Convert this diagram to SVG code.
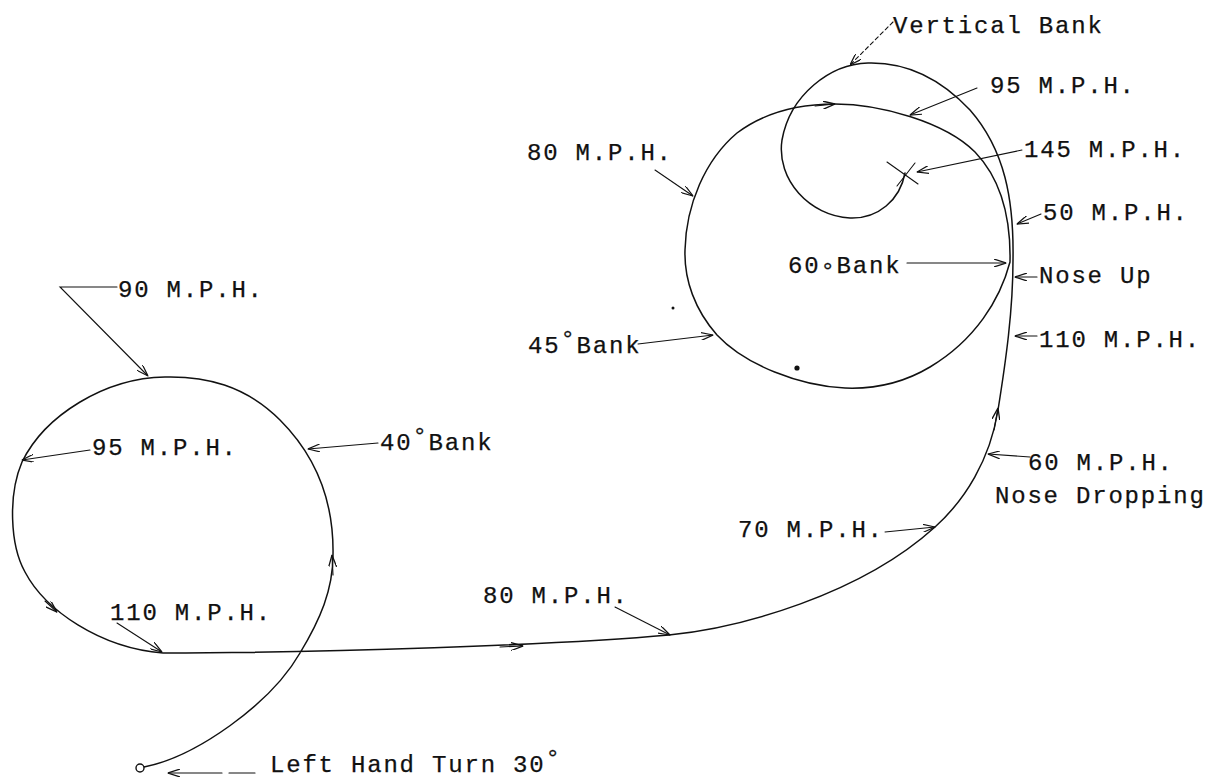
<svg xmlns="http://www.w3.org/2000/svg" width="1206" height="779" viewBox="0 0 1206 779">
<style>
  .t{font-family:"Liberation Mono","DejaVu Sans Mono",monospace;font-size:24px;letter-spacing:1.8px;fill:#111;stroke:#111;stroke-width:0.25}
  .p{fill:none;stroke:#111;stroke-width:1.5;stroke-linecap:round;stroke-linejoin:round}
  .l{fill:none;stroke:#111;stroke-width:1.1;stroke-linecap:round}
  .d{stroke-dasharray:4 3}
</style>
<defs>
  <marker id="a" viewBox="0 0 12 8" refX="12" refY="4" markerWidth="12" markerHeight="8" markerUnits="userSpaceOnUse" orient="auto">
    <path d="M0,0 L12,4 L0,8" fill="none" stroke="#111" stroke-width="1.2"/>
  </marker>
  <marker id="m" viewBox="0 0 12 8" refX="12" refY="4" markerWidth="12" markerHeight="8" markerUnits="userSpaceOnUse" orient="auto">
    <path d="M0,0 L12,4 L0,8" fill="none" stroke="#111" stroke-width="1.3"/>
  </marker>
</defs>
<rect width="1206" height="779" fill="#fff"/>

<g id="flight-path">
  <path class="p" d="M144,767 C195,757 270,705 300,653 C320,620 333,590 333,555 C334,500 315,455 280,420 C245,385 205,376 165,377 C105,378 45,415 22,462 C8,495 10,545 25,572 C45,610 100,648 163,653 C320,653 560,645 669,635 C740,628 860,595 935,527 C965,500 990,460 998,410 C1006,360 1013,310 1013,260 C1014,200 1005,150 970,110 C940,78 905,62 868,63 C830,64 790,95 782,140 C776,180 810,216 850,218 C878,219 900,200 905,173"/>
  <path class="p" d="M1010,262 C1000,300 975,340 930,367 C900,385 870,389 845,388 C800,386 745,365 717,335 C695,310 684,280 685,250 C686,205 705,160 737,133 C765,112 800,104 835,104 C880,104 945,122 975,152 C1000,178 1011,215 1010,262"/>
  <circle cx="140" cy="768" r="4" fill="#fff" stroke="#111" stroke-width="1.4"/>
  <path class="l" d="M887,162 L918,184 M897,186 L915,163" stroke-width="1.4"/>
  <circle cx="797" cy="368" r="2.6" fill="#111"/>
  <circle cx="673" cy="308" r="1.5" fill="#111"/>
</g>

<g id="path-arrows">
  <path class="l" d="M333,575 L332,555" marker-end="url(#m)"/>
  <path class="l" d="M45,601 L57,612" marker-end="url(#m)"/>
  <path class="l" d="M500,647 L523,646" marker-end="url(#m)"/>
  <path class="l" d="M994,430 L998,408" marker-end="url(#m)"/>
  <path class="l" d="M815,106 L835,104" marker-end="url(#m)"/>
</g>

<g id="connectors">
  <path class="l d" d="M893,22 L850,65" marker-end="url(#a)"/>
  <path class="l" d="M977,88 L910,115" marker-end="url(#a)"/>
  <path class="l" d="M655,170 L693,196" marker-end="url(#a)"/>
  <path class="l" d="M1022,150 L917,172" marker-end="url(#a)"/>
  <path class="l" d="M1041,214 L1017,224" marker-end="url(#a)"/>
  <path class="l" d="M907,263 L1006,263" marker-end="url(#a)"/>
  <path class="l" d="M1037,277 L1015,277" marker-end="url(#a)"/>
  <path class="l" d="M1037,336 L1015,336" marker-end="url(#a)"/>
  <path class="l" d="M638,344 L713,335" marker-end="url(#a)"/>
  <path class="l" d="M1030,457 L988,454" marker-end="url(#a)"/>
  <path class="l" d="M885,532 L935,527" marker-end="url(#a)"/>
  <path class="l" d="M615,607 L670,635" marker-end="url(#a)"/>
  <path class="l" d="M117,623 L162,652" marker-end="url(#a)"/>
  <path class="l" d="M117,287 L60,287 L148,376" marker-end="url(#a)"/>
  <path class="l" d="M90,450 L22,460" marker-end="url(#a)"/>
  <path class="l" d="M378,443 L308,449" marker-end="url(#a)"/>
  <path class="l" d="M222,773 L168,773" marker-end="url(#a)"/>
  <path class="l" d="M229,773 L255,773"/>
</g>

<g id="labels">
  <text id="lbl-vertical-bank" class="t" x="893" y="33">Vertical Bank</text>
  <text id="lbl-95-top" class="t" x="990" y="93">95 M.P.H.</text>
  <text id="lbl-80-top" class="t" x="527" y="160">80 M.P.H.</text>
  <text id="lbl-145" class="t" x="1024" y="157">145 M.P.H.</text>
  <text id="lbl-50" class="t" x="1043" y="220">50 M.P.H.</text>
  <text id="lbl-60bank" class="t" x="788" y="273">60<tspan dy="6">°</tspan><tspan dy="-6">Bank</tspan></text>
  <text id="lbl-nose-up" class="t" x="1039" y="283">Nose Up</text>
  <text id="lbl-110-right" class="t" x="1039" y="347">110 M.P.H.</text>
  <text id="lbl-45bank" class="t" x="528" y="353">45<tspan dy="-6">°</tspan><tspan dy="6">Bank</tspan></text>
  <text id="lbl-60mph" class="t" x="1028" y="470">60 M.P.H.</text>
  <text id="lbl-nose-dropping" class="t" x="995" y="503">Nose Dropping</text>
  <text id="lbl-70" class="t" x="738" y="537">70 M.P.H.</text>
  <text id="lbl-80-bottom" class="t" x="483" y="603">80 M.P.H.</text>
  <text id="lbl-110-left" class="t" x="110" y="620">110 M.P.H.</text>
  <text id="lbl-90" class="t" x="118" y="297">90 M.P.H.</text>
  <text id="lbl-95-left" class="t" x="92" y="455">95 M.P.H.</text>
  <text id="lbl-40bank" class="t" x="380" y="450">40<tspan dy="-6">°</tspan><tspan dy="6">Bank</tspan></text>
  <text id="lbl-left-hand" class="t" x="270" y="772">Left Hand Turn 30<tspan dy="-6">°</tspan></text>
</g>
</svg>
